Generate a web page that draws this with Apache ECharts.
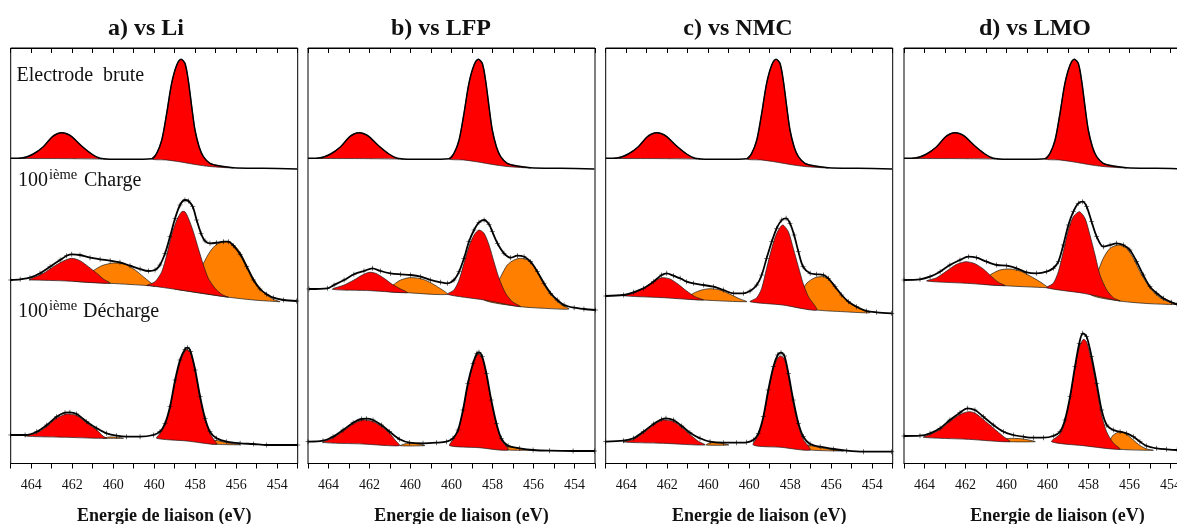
<!DOCTYPE html>
<html><head><meta charset="utf-8">
<script src="https://cdn.jsdelivr.net/npm/echarts@6/dist/echarts.min.js"></script>
<style>html,body{margin:0;padding:0;background:#fff}#c{width:1177px;height:524px}</style>
</head><body><div id="c"></div>
<script>
// ---------- axis / text ----------
const tickValues = [466, 464, 462, 460, 458, 456, 454];
const tickLabels = ['464', '462', '460', '460', '458', '456', '454'];
const panelTitles = ['a) vs Li', 'b) vs LFP', 'c) vs NMC', 'd) vs LMO'];
const xName = 'Energie de liaison (eV)';

// ---------- data: [binding energy (eV), intensity (a.u.)] ----------
// Electrode brute (same pristine electrode in every panel)
const env_r1 = [[467.0,11.7],[466.45,12],[465.9,16],[465.41,23.3],[465.0,32.7],[464.76,36],[464.51,37.3],[464.27,36.3],[464.02,33.3],[463.54,24],[463.05,16],[462.64,11.7],[462.16,10.8],[461.18,10.7],[460.12,11.3],[459.88,16.7],[459.63,30],[459.39,56.7],[459.15,86.7],[458.90,105],[458.69,110.7],[458.50,106.7],[458.34,90],[458.17,63.3],[458.01,40],[457.81,23.3],[457.60,13.3],[457.28,6.7],[456.79,4],[456.14,2.3],[454.68,1.7],[453.03,1]];
const base_r1 = [[467,11.7],[464.5,11.4],[462.6,11],[460.12,11],[459.4,10],[458.7,8],[458.0,5.5],[457.3,3.5],[456.14,2],[453,1]];
const red_r1 = [
  [[466.6,11.7],[466.2,13.3],[465.9,16],[465.41,23.3],[465.0,32.7],[464.76,36],[464.51,37.3],[464.27,36.3],[464.02,33.3],[463.54,24],[463.05,16],[462.75,12.2],[462.55,11]],
  [[460.12,11],[459.88,16.7],[459.63,30],[459.39,56.7],[459.15,86.7],[458.90,105],[458.69,110.7],[458.50,106.7],[458.34,90],[458.17,63.3],[458.01,40],[457.81,23.3],[457.60,13.3],[457.28,6.7],[456.79,4],[456.14,2]]
];

// a) vs Li
const env_a2 = [[467.0,35],[466.54,35.7],[466.06,37.3],[465.57,41.7],[465.08,48.3],[464.59,55],[464.27,59.3],[464.02,60.7],[463.62,60],[463.13,57.3],[462.64,55.7],[462.15,54.3],[461.67,52.7],[461.18,49.3],[460.69,46],[460.28,44],[459.96,45],[459.72,50],[459.47,61.7],[459.23,78.3],[458.98,96.7],[458.74,110],[458.50,115],[458.33,114],[458.12,108.3],[457.93,95],[457.72,81.7],[457.52,74],[457.28,71.7],[456.95,72.3],[456.63,73.3],[456.38,73.3],[456.14,69.3],[455.81,60.7],[455.49,48.3],[455.16,35],[454.84,26],[454.51,20.7],[454.19,17.3],[453.70,15],[453.05,14]];
const base_a2 = [[467.0,35],[465.98,35],[464.27,34],[462.15,31.7],[460.20,29.3],[458.41,24],[456.46,18],[455.16,15],[453.94,13.3],[453.0,13.3]];
const red_a2 = [
  [[466.1,35],[465.98,36.5],[465.41,41.7],[464.92,48.3],[464.43,54],[464.02,56.7],[463.62,54.3],[463.21,48.3],[462.80,41.7],[462.48,36],[462.15,31.7]],
  [[460.37,29.5],[459.96,33.3],[459.63,43.3],[459.39,60],[459.15,80],[458.90,95],[458.66,103.3],[458.50,103.3],[458.33,96.7],[458.09,83.3],[457.85,66.7],[457.60,50],[457.36,36.7],[457.03,26.7],[456.71,20.7],[456.38,17.7]]
];
const orange_a2 = [
  [[463.9,33.8],[463.62,35.5],[463.05,43.3],[462.56,49.3],[461.99,52],[461.42,50.7],[460.93,45],[460.53,38.3],[460.20,32.7],[459.96,28.7]],
  [[459.07,26.8],[458.41,31.7],[457.93,40],[457.60,51.7],[457.28,63.3],[456.95,70.7],[456.46,73.3],[456.14,70.7],[455.81,62.7],[455.49,50],[455.16,36.7],[454.84,26.7],[454.51,20],[454.19,15.7],[453.86,13.3]]
];
const env_a3 = [[467.0,20],[466.30,20],[465.73,23.3],[465.24,30],[464.76,38.3],[464.35,42.3],[464.11,42.7],[463.78,41],[463.29,33.3],[462.80,26.7],[462.32,21.7],[461.83,19.3],[461.34,18.3],[460.69,18.3],[460.04,20],[459.72,23.3],[459.47,31.7],[459.23,48.3],[458.98,75],[458.74,95],[458.50,105.7],[458.38,107.3],[458.22,103.3],[458.0,85],[457.76,58.3],[457.52,36.7],[457.28,23.3],[456.95,16.7],[456.46,13.3],[455.81,11.7],[455.16,11],[454.51,10],[453.0,10]];
const base_a3 = [[467.0,20],[466.30,19],[464.27,17.7],[462.32,16.7],[459.88,16.7],[458.41,14],[456.95,10.7],[455.81,10.3],[453.0,9.7]];
const red_a3 = [
  [[466.30,19],[465.73,22],[465.24,28.5],[464.76,36.7],[464.27,41],[463.78,39.5],[463.29,32],[462.80,25],[462.5,19],[462.32,16.7]],
  [[459.88,16.7],[459.72,21.5],[459.47,30],[459.23,46.7],[458.98,73],[458.74,93],[458.50,104],[458.38,105.5],[458.22,101.7],[458.0,83.3],[457.76,56.7],[457.52,35],[457.28,21.7],[457.11,16],[456.95,10.7]]
];
const orange_a3 = [
  [[462.5,16.8],[462.2,18],[461.8,17.8],[461.5,16.7]],
  [[457.4,12],[457.11,14.5],[456.95,14.5],[456.46,12.3],[455.81,10.3]]
];

// b) vs LFP
const env_b2 = [[466.95,26],[466.06,26.7],[465.73,30],[465.24,35],[464.76,40.7],[464.27,44],[463.86,46.7],[463.46,44],[462.97,41.7],[462.48,40.7],[461.99,40],[461.50,38.3],[461.02,35],[460.53,32.7],[460.20,31.7],[459.88,35],[459.63,43.3],[459.39,56.7],[459.15,73.3],[458.90,85],[458.66,92.7],[458.41,95],[458.17,90.7],[458.01,83.3],[457.76,71.7],[457.44,61.7],[457.11,57.3],[456.79,59.3],[456.46,58.3],[456.14,53.3],[455.81,43.3],[455.49,31.7],[455.16,21.7],[454.84,15],[454.51,10],[454.02,7.3],[453.54,6],[452.97,5]];
const base_b2 = [[466.95,26],[465.81,25.7],[463.94,24.3],[462.15,22.3],[460.20,20.7],[458.41,15],[456.63,8.3],[455.49,6.7],[454.27,6],[452.97,5]];
const red_b2 = [
  [[465.81,25.7],[465.24,30],[464.76,35],[464.35,40],[464.02,42.7],[463.70,41.7],[463.29,36.7],[462.89,30.7],[462.48,26],[462.15,22.3]],
  [[460.20,20.7],[459.88,25],[459.63,35],[459.39,51.7],[459.15,68.3],[458.90,80],[458.66,85],[458.41,81.7],[458.17,70],[457.93,53.3],[457.68,36.7],[457.36,21.7],[457.03,13.3],[456.63,8.3]]
];
const orange_b2 = [
  [[463.13,24],[462.80,30.7],[462.48,35],[462.07,37.3],[461.59,36.7],[461.18,34],[460.69,28.3],[460.20,20.7]],
  [[458.41,15],[457.93,25],[457.60,38.3],[457.28,50],[456.95,55],[456.63,56.7],[456.30,55],[455.98,48.3],[455.65,36.7],[455.33,25],[455.00,16.7],[454.67,10.7],[454.27,6]]
];
const env_b3 = [[467.0,13.3],[466.27,14.3],[465.78,18.3],[465.29,25],[464.80,32.3],[464.40,36],[464.15,36.3],[463.83,35],[463.42,30],[463.02,23.3],[462.53,15.7],[462.04,12.3],[461.39,11.7],[460.74,12.3],[460.25,13.3],[459.93,16.7],[459.68,25],[459.44,45],[459.20,71.7],[458.95,91.7],[458.76,101.7],[458.66,102.7],[458.50,98.3],[458.30,81.7],[458.06,55],[457.81,31.7],[457.57,16.7],[457.24,9.3],[456.67,6.7],[456.02,5],[455.21,4.3],[454.07,4],[453.02,4]];
const base_b3 = [[467.0,13.3],[466.27,12.7],[464.32,11],[462.53,9.3],[460.09,9.3],[458.66,7.3],[457.24,5],[455.70,4.3],[453.02,4]];
const red_b3 = [
  [[466.27,12.7],[465.78,17],[465.29,23.7],[464.80,31],[464.32,35],[463.83,33.5],[463.42,28.5],[463.02,21.7],[462.75,15],[462.53,9.3]],
  [[460.09,9.3],[459.93,15.5],[459.68,24],[459.44,44],[459.20,70],[458.95,90],[458.76,100],[458.66,101],[458.50,96.7],[458.30,80],[458.06,53.3],[457.81,30],[457.57,15],[457.24,5]]
];
const orange_b3 = [
  [[462.5,9.3],[462.2,11.5],[461.7,11.2],[461.3,9.4]],
  [[457.6,7],[457.3,8.5],[457.0,7.8],[456.6,6.2],[456.1,4.8]]
];

// c) vs NMC
const env_c2 = [[467.0,19],[466.14,20],[465.65,22.7],[465.16,26.7],[464.67,33.3],[464.27,40],[464.02,41.7],[463.70,39.3],[463.37,36.7],[463.05,33.3],[462.72,31.7],[462.24,30],[461.75,28.3],[461.26,25],[460.77,21.7],[460.28,21.7],[459.96,24],[459.63,30],[459.39,40],[459.15,56.7],[458.90,73.3],[458.66,86.7],[458.41,95],[458.20,96.7],[458.01,91.7],[457.81,80],[457.60,63.3],[457.37,48.3],[457.03,41.7],[456.71,40.7],[456.38,40],[456.14,36.7],[455.81,28.3],[455.49,20],[455.16,13.3],[454.76,8.3],[454.27,4],[453.78,2.7],[453.05,1.7]];
const base_c2 = [[467.0,19],[466.14,19],[464.2,17.3],[462.24,15],[460.12,13.3],[458.37,10],[456.71,5],[455.41,3.3],[454.11,2.3],[453.05,1.7]];
const red_c2 = [
  [[466.14,19.3],[465.65,21.7],[465.16,26.7],[464.67,33.3],[464.27,37.3],[463.86,36],[463.46,30.7],[463.05,24],[462.64,18.3],[462.24,15]],
  [[459.96,13.3],[459.63,17.3],[459.39,26.7],[459.15,46.7],[458.90,66.7],[458.66,81.7],[458.37,90],[458.09,83.3],[457.85,66.7],[457.60,48.3],[457.37,31.7],[457.11,18.3],[456.71,5]]
];
const orange_c2 = [
  [[463.05,16.7],[462.72,21.7],[462.32,25],[461.91,26.3],[461.42,25],[460.93,20.7],[460.45,16],[460.12,13.3]],
  [[458.01,10],[457.52,20],[457.20,31.7],[456.79,37.3],[456.38,38.3],[456.06,35],[455.73,26.7],[455.41,18.3],[455.08,11.7],[454.67,6.7],[454.11,2.3]]
];
const env_c3 = [[467.0,13.3],[466.14,14.3],[465.65,16.7],[465.16,23.3],[464.67,31],[464.27,35.7],[464.06,36.7],[463.70,35],[463.29,29],[462.89,22.3],[462.40,16.7],[461.91,13.3],[461.26,12.3],[460.61,12.3],[460.12,12.7],[459.80,15],[459.55,21.7],[459.31,38.3],[459.07,65],[458.82,88.3],[458.61,100],[458.45,102.3],[458.28,99],[458.09,81.7],[457.85,55],[457.60,31.7],[457.36,18.3],[457.03,11],[456.54,8.3],[455.89,6],[455.24,4.3],[454.43,3.3],[453.05,3.3]];
const base_c3 = [[467.0,13.3],[466.14,13],[464.19,11.7],[462.15,10],[459.80,10],[458.45,7.7],[457.03,5],[455.41,4],[453.05,3.3]];
const red_c3 = [
  [[466.14,13],[465.65,15.5],[465.16,22],[464.67,30],[464.19,35],[463.70,33.5],[463.29,27.5],[462.89,20.5],[462.5,14],[462.15,10]],
  [[459.80,10],[459.55,20],[459.31,37],[459.07,63],[458.82,86.7],[458.61,97],[458.46,99],[458.28,96],[458.09,79],[457.85,52],[457.60,29],[457.36,15.5],[457.03,5]]
];
const orange_c3 = [
  [[462.1,10],[461.9,12.3],[461.3,11.5],[461.0,10]],
  [[457.4,8],[457.2,9.7],[456.9,9],[456.4,6.8],[455.8,5],[455.41,4]]
];

// d) vs LMO
const env_d2 = [[467.0,35],[466.22,35.7],[465.73,38.3],[465.24,43.3],[464.76,50],[464.27,55],[463.86,58.3],[463.46,57.3],[462.97,53.3],[462.48,50],[461.99,49.3],[461.50,46.7],[461.02,42.7],[460.53,41.7],[460.04,43.3],[459.72,46.7],[459.47,53.3],[459.23,70],[458.98,90],[458.74,103.3],[458.50,111.7],[458.28,113.3],[458.09,108.3],[457.85,93.3],[457.60,78.3],[457.28,68.3],[456.95,70],[456.63,71.7],[456.30,70],[455.98,65],[455.65,53.3],[455.33,40],[455.0,28.3],[454.67,21.7],[454.35,16.7],[453.94,12.7],[453.68,10.7],[453.0,9.5]];
const base_d2 = [[467.0,34],[465.89,34],[463.94,31.7],[462.07,29.3],[460.04,27.3],[458.25,21.7],[456.46,14],[455.0,11.3],[453.68,10],[453.0,9.5]];
const red_d2 = [
  [[465.89,34],[465.41,37.3],[464.92,44],[464.43,50.7],[463.98,53.3],[463.54,51.3],[463.13,46],[462.72,38.3],[462.40,32.7],[462.07,29.3]],
  [[460.04,27.3],[459.72,31.7],[459.47,43.3],[459.23,63.3],[458.98,85],[458.74,98.3],[458.44,103.3],[458.17,96.7],[457.93,80],[457.68,60],[457.44,40],[457.11,25],[456.79,17.3],[456.46,14]]
];
const orange_d2 = [
  [[463.13,31.7],[462.80,40],[462.32,45],[461.83,46],[461.34,44],[460.85,39],[460.37,33.3],[459.96,27.3]],
  [[457.93,21],[457.60,40],[457.28,56.7],[456.95,66.7],[456.54,70],[456.14,66.7],[455.81,56.7],[455.49,43.3],[455.16,31.7],[454.84,23.3],[454.51,17.3],[454.11,13.3],[453.68,10.7]]
];
const env_d3 = [[467.0,19],[466.22,19.3],[465.73,21.7],[465.24,26.7],[464.76,35],[464.27,42.3],[463.91,46.7],[463.54,45],[463.13,38.3],[462.64,30],[462.15,23.3],[461.67,20],[461.18,18.3],[460.69,17.3],[460.20,17.3],[459.72,19],[459.39,23.3],[459.15,35],[458.90,58.3],[458.66,88.3],[458.45,111.7],[458.28,121.7],[458.09,118.3],[457.85,98.3],[457.60,71.7],[457.36,45],[457.11,30],[456.79,25],[456.46,23.3],[456.14,21.7],[455.81,18.3],[455.49,13.3],[455.16,9],[454.67,6.7],[454.19,5.7],[453.68,5],[453.0,4.8]];
const base_d3 = [[467.0,18.7],[466.06,17.7],[463.86,15.7],[461.83,13.3],[459.80,13.3],[458.25,9.3],[456.46,5.7],[454.84,4.7],[453.68,4.3],[453.0,4.2]];
const red_d3 = [
  [[466.06,17.7],[465.73,20.5],[465.24,25.5],[464.76,33.5],[464.27,40.5],[463.86,43.3],[463.54,42],[463.13,35.5],[462.64,27],[462.15,18.5],[461.83,13.3]],
  [[459.80,13.3],[459.39,21],[459.15,33],[458.90,56.7],[458.66,86.7],[458.45,108],[458.25,115.7],[458.09,113],[457.85,94],[457.60,67],[457.36,40],[457.11,23],[456.79,12],[456.46,5.7]]
];
const orange_d3 = [
  [[462.3,14.6],[461.9,16.5],[461.3,16.3],[460.8,14.5],[460.6,13.3]],
  [[457.11,9],[456.95,15],[456.79,20],[456.46,23.3],[456.14,20.5],[455.81,15],[455.49,9.5],[455.16,6],[454.84,4.7]]
];

// ---------- layout & style ----------
const RED = '#ff0000', ORANGE = '#ff8000';
const panelLeft = [10.7, 308, 605.7, 904];
const titleCenter = [146, 441, 738, 1035];
const W = 287, FRAME_TOP = 48, FRAME_H = 415.5;
const rowGrid = [{ top: 48, h: 122 }, { top: 170, h: 145 }, { top: 315, h: 140 }];
const SERIF = 'Liberation Serif';

const panels = [
  [{ env: env_r1, base: base_r1, red: red_r1, orange: [] }, { env: env_a2, base: base_a2, red: red_a2, orange: orange_a2 }, { env: env_a3, base: base_a3, red: red_a3, orange: orange_a3 }],
  [{ env: env_r1, base: base_r1, red: red_r1, orange: [] }, { env: env_b2, base: base_b2, red: red_b2, orange: orange_b2 }, { env: env_b3, base: base_b3, red: red_b3, orange: orange_b3 }],
  [{ env: env_r1, base: base_r1, red: red_r1, orange: [] }, { env: env_c2, base: base_c2, red: red_c2, orange: orange_c2 }, { env: env_c3, base: base_c3, red: red_c3, orange: orange_c3 }],
  [{ env: env_r1, base: base_r1, red: red_r1, orange: [] }, { env: env_d2, base: base_d2, red: red_d2, orange: orange_d2 }, { env: env_d3, base: base_d3, red: red_d3, orange: orange_d3 }]
];

function fillSeries(xi, yi, pts, base, color, z) {
  return {
    type: 'custom', xAxisIndex: xi, yAxisIndex: yi, z: z, silent: true, clip: false,
    data: [[pts[0][0], pts[0][1]]],
    renderItem: function (params, api) {
      const x0 = pts[0][0], x1 = pts[pts.length - 1][0];
      const bottom = base.filter(function (p) { return p[0] < x0 && p[0] > x1; }).slice().reverse();
      const all = pts.concat(bottom).map(function (p) { return api.coord(p); });
      return { type: 'polygon', shape: { points: all, smooth: 0.25 }, style: { fill: color, stroke: '#1a1a1a', lineWidth: 0.7 } };
    }
  };
}

const grid = [], xAxis = [], yAxis = [], series = [], title = [];
const labelFmt = function (v) {
  const r = Math.round(v);
  if (Math.abs(v - r) > 1e-6) return '';
  const i = tickValues.indexOf(r);
  return i >= 0 ? tickLabels[i] : '';
};

panels.forEach(function (rows, pi) {
  const L = panelLeft[pi];
  const gi = grid.length;
  grid.push({ left: L, top: FRAME_TOP, width: W, height: FRAME_H, show: true, borderColor: '#000', borderWidth: 1, backgroundColor: 'rgba(0,0,0,0)', containLabel: false, outerBoundsMode: 'none' });
  xAxis.push({
    gridIndex: gi, type: 'value', min: 453, max: 467, interval: 1, inverse: true, position: 'bottom',
    axisLine: { show: true, lineStyle: { color: '#000', width: 1 } },
    axisTick: { show: true, inside: false, length: 5, lineStyle: { color: '#000', width: 1 } },
    axisLabel: { show: true, margin: 15, color: '#111', fontFamily: SERIF, fontSize: 14, formatter: labelFmt },
    splitLine: { show: false },
    name: xName, nameLocation: 'middle', nameGap: 44,
    nameTextStyle: { fontFamily: SERIF, fontWeight: 'bold', fontSize: 18, color: '#111', padding: [0, 0, 0, 20] }
  });
  xAxis.push({
    gridIndex: gi, type: 'value', min: 453, max: 467, interval: 1, inverse: true, position: 'top',
    axisLine: { show: true, lineStyle: { color: '#000', width: 1 } },
    axisTick: { show: true, inside: true, length: 5, lineStyle: { color: '#000', width: 1 } },
    axisLabel: { show: false }, splitLine: { show: false }
  });
  yAxis.push({ gridIndex: gi, type: 'value', min: 0, max: 1, show: false });
  title.push({
    text: panelTitles[pi], left: titleCenter[pi], top: 17, textAlign: 'center', padding: 0,
    textStyle: { fontFamily: SERIF, fontWeight: 'bold', fontSize: 24, color: '#111' }
  });

  rowGrid.forEach(function (rg, ri) {
    const g = grid.length;
    grid.push({ left: L, top: rg.top, width: W, height: rg.h, show: false, containLabel: false, outerBoundsMode: 'none' });
    const xi = xAxis.length;
    xAxis.push({ gridIndex: g, type: 'value', min: 453, max: 467, inverse: true, show: false });
    const yi = yAxis.length;
    yAxis.push({ gridIndex: g, type: 'value', min: 0, max: rg.h, show: false });
    const r = rows[ri];
    r.orange.forEach(function (c) { series.push(fillSeries(xi, yi, c, r.base, ORANGE, 2)); });
    r.red.forEach(function (c) { series.push(fillSeries(xi, yi, c, r.base, RED, 3)); });
    series.push({
      type: 'line', xAxisIndex: xi, yAxisIndex: yi, data: r.env, z: 5, silent: true, clip: false,
      smooth: 0.3, showSymbol: true, showAllSymbol: true,
      symbol: 'path://M4,0h1v9h-1z M0,4h9v1h-9z', symbolSize: ri === 0 ? 0 : 5,
      itemStyle: { color: '#000' }, lineStyle: { color: '#000', width: ri === 0 ? 1.5 : 1.8 }
    });
  });
});

const txt = function (x, y, s, size) {
  return { type: 'text', x: x, y: y, silent: true, style: { text: s, fontFamily: SERIF, fontSize: size, fill: '#111', verticalAlign: 'middle', align: 'left' } };
};
const graphic = [
  txt(16.5, 75.5, 'Electrode  brute', 20),
  txt(18, 180.5, '100', 20), txt(49, 175, 'ième', 14.5), txt(84, 180.5, 'Charge', 20),
  txt(18, 312, '100', 20), txt(49, 306.5, 'ième', 14.5), txt(83, 312, 'Décharge', 20)
];

const chart = echarts.init(document.getElementById('c'), null, { renderer: 'canvas' });
chart.setOption({ animation: false, backgroundColor: '#fff', title: title, grid: grid, xAxis: xAxis, yAxis: yAxis, series: series, graphic: graphic });
</script></body></html>
